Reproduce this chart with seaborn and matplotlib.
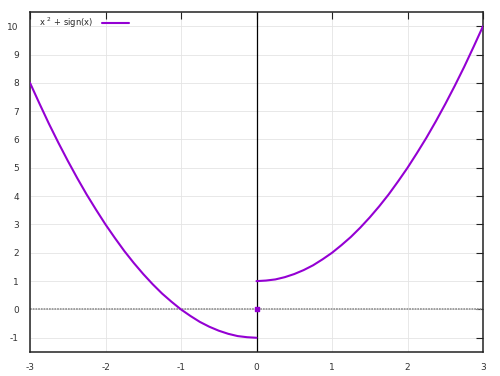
import pandas as pd
import matplotlib.pyplot as plt
import seaborn as sns

# values (x^2 + sign(x))
xLeft = [-3, -2.875, -2.75, -2.625, -2.5, -2.375, -2.25, -2.125, -2, -1.875, -1.75, -1.625, -1.5,
         -1.375, -1.25, -1.125, -1, -0.875, -0.75, -0.625, -0.5, -0.375, -0.25, -0.125, 0]
yLeft = [8, 7.27, 6.56, 5.89, 5.25, 4.64, 4.06, 3.52, 3, 2.52, 2.06, 1.64, 1.25,
         0.89, 0.56, 0.27, 0, -0.23, -0.44, -0.61, -0.75, -0.86, -0.94, -0.98, -1]
xRight = [0, 0.125, 0.25, 0.375, 0.5, 0.625, 0.75, 0.875, 1, 1.125, 1.25, 1.375, 1.5,
          1.625, 1.75, 1.875, 2, 2.125, 2.25, 2.375, 2.5, 2.625, 2.75, 2.875, 3]
yRight = [1, 1.02, 1.06, 1.14, 1.25, 1.39, 1.56, 1.77, 2, 2.27, 2.56, 2.89, 3.25,
          3.64, 4.06, 4.52, 5, 5.52, 6.06, 6.64, 7.25, 7.89, 8.56, 9.27, 10]
xPoint = [0]
yPoint = [0]
xTicks = [-3, -2, -1, 0, 1, 2, 3]
yTicks = [-1, 0, 1, 2, 3, 4, 5, 6, 7, 8, 9, 10]
label = r"x $^2$ + sign(x)"

sns.set_style("white")
plt.rcParams['font.family'] = ['DejaVu Sans']
plt.rcParams['axes.unicode_minus'] = False

purple = "#9400d3"
fig = plt.figure(figsize=(5, 3.76), dpi=100)
ax = fig.add_axes([0.06, 0.064, 0.906, 0.904])

ax.set_xticks(xTicks)
ax.set_yticks(yTicks)
ax.grid(True, color="#e4e4e4", linewidth=0.6)
ax.axhline(0, color="#999999", linewidth=1.3, linestyle=(0, (1, 0.5)), zorder=1)
ax.axvline(0, color="black", linewidth=0.9, zorder=1)

leftFrame = pd.DataFrame({"x": xLeft, "y": yLeft})
rightFrame = pd.DataFrame({"x": xRight, "y": yRight})
sns.lineplot(data=leftFrame, x="x", y="y", color=purple, linewidth=1.5, label=label, ax=ax, zorder=3)
sns.lineplot(data=rightFrame, x="x", y="y", color=purple, linewidth=1.5, ax=ax, zorder=3)
ax.scatter(xPoint, yPoint, color=purple, marker="s", s=8, zorder=4)

ax.set_xlim(-3, 3)
ax.set_ylim(-1.5, 10.5)
ax.set_xlabel("")
ax.set_ylabel("")

for s in ax.spines.values():
    s.set_color("#222222")
    s.set_linewidth(1.1)

ax.tick_params(direction="in", length=5, width=0.8, color="#222222", labelsize=6.5,
               labelcolor="#333333", top=True, right=True, pad=8)

leg = ax.legend(loc="upper left", bbox_to_anchor=(0.02, 0.99), frameon=False, markerfirst=False,
                fontsize=6, handlelength=3.2, borderaxespad=0, handletextpad=1.05, borderpad=0)

fig.savefig("out.png", dpi=100)
plt.close("all")
